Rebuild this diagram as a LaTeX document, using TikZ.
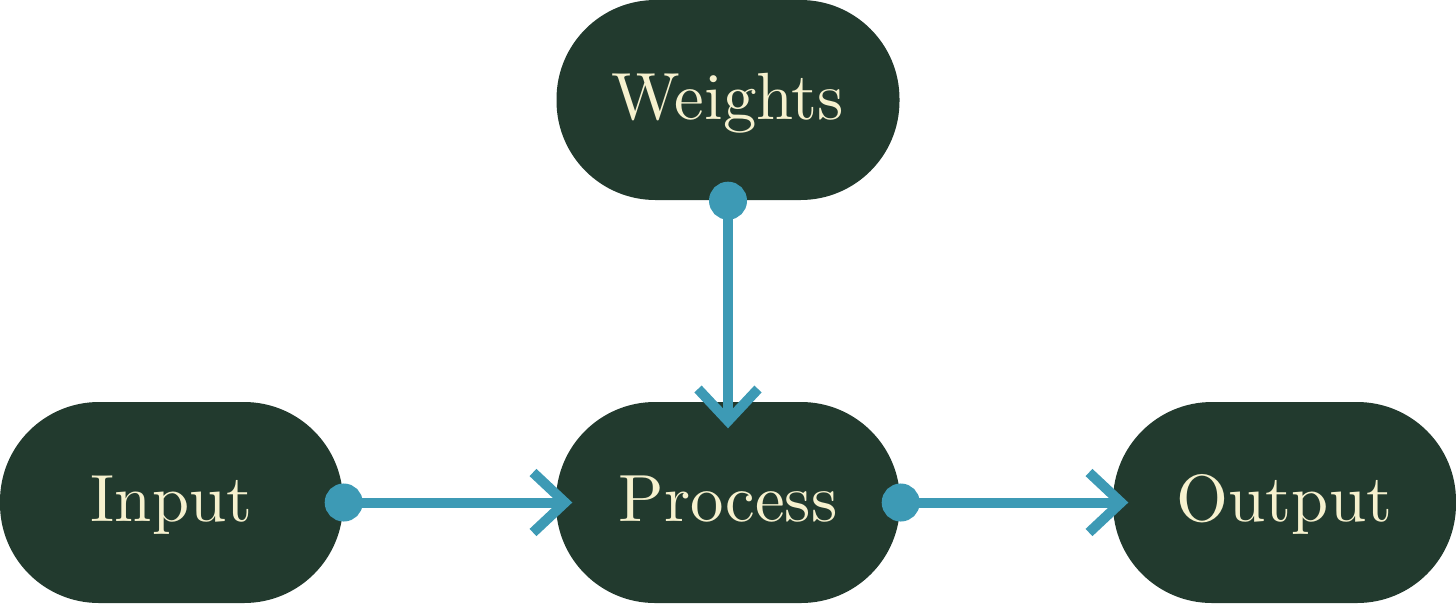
\documentclass[tikz,border=0pt]{standalone}
\usetikzlibrary{arrows.meta}
\definecolor{pillgreen}{HTML}{223A2E}
\definecolor{pilltext}{HTML}{F6F1CE}
\definecolor{linkblue}{HTML}{3D9AB5}
\newcommand\pilllabel[1]{\scalebox{1.9}{#1}}
\tikzset{
  pill/.style={fill=pillgreen, text=pilltext, rounded corners=0.99cm,
    minimum width=3.43cm, minimum height=2.0cm, inner sep=0pt,
    font=\fontsize{10}{12}\selectfont, text height=4.6mm, text depth=0.8mm},
  link/.style={draw=linkblue, line width=1mm,
    {Circle[length=3.8mm]}-{Straight Barb[length=3.2mm, width=6mm]},
    shorten <=-1.9mm}
}
\begin{document}
\begin{tikzpicture}
\useasboundingbox (0,0) rectangle (14.56,-6.03);
\node[pill] (weights) at (7.28,-1.00) {\pilllabel{Weights}};
\node[pill, minimum height=2.01cm] (input) at (1.715,-5.025) {\pilllabel{Input}};
\node[pill, minimum height=2.01cm, minimum width=3.44cm] (process) at (7.28,-5.025) {\pilllabel{Process}};
\node[pill, minimum height=2.01cm] (output) at (12.845,-5.025) {\pilllabel{Output}};
\draw[link, shorten >=-1.7mm] (input.east) -- (process.west);
\draw[link, shorten >=-1.6mm] (process.east) -- (output.west);
\draw[link, shorten >=-2.7mm] (weights.south) -- (process.north);
\end{tikzpicture}
\end{document}
